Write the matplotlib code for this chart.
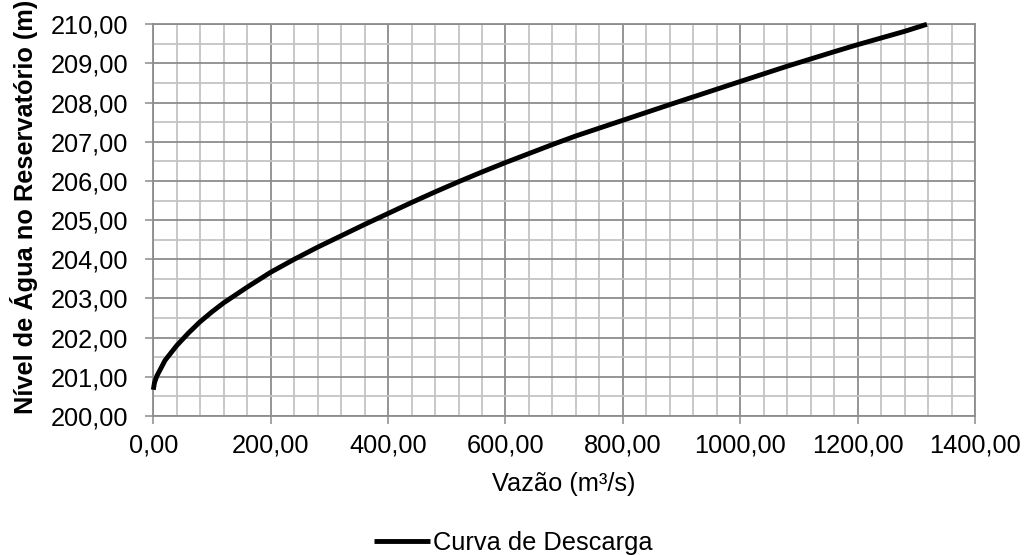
import matplotlib
matplotlib.use("Agg")
import matplotlib.pyplot as plt
from matplotlib.ticker import MultipleLocator, FuncFormatter

# Rating curve: discharge (m³/s) vs. reservoir water level (m)
vazao = [0, 2, 6, 20, 40, 60, 80, 100, 120, 160, 200, 240, 280, 320, 360, 400,
         440, 480, 520, 560, 600, 640, 680, 720, 760, 800, 840, 880,
         1000, 1080, 1160, 1200, 1240, 1280, 1318]
nivel = [200.67, 200.85, 201.02, 201.42, 201.8, 202.12, 202.41, 202.66, 202.89, 203.29,
         203.67, 204.0, 204.31, 204.6, 204.89, 205.17, 205.45, 205.72, 205.98, 206.23,
         206.47, 206.7, 206.93, 207.15, 207.35, 207.55, 207.75, 207.95, 208.54, 208.93,
         209.3, 209.48, 209.65, 209.82, 210.0]

serie_nome = "Curva de Descarga"
x_titulo = "Vazão (m³/s)"
y_titulo = "Nível de Água no Reservatório (m)"

plt.rcParams['font.family'] = ['Liberation Sans', 'DejaVu Sans']
fs = 18.3

fig = plt.figure(figsize=(10.27, 5.55), dpi=100)
ax = fig.add_axes([153.3 / 1027, 1 - 416 / 555, (975 - 153.3) / 1027, (416 - 24.3) / 555])

major_c = '#8c8c8c'
minor_c = '#c4c4c4'

ax.set_xlim(0, 1400)
ax.set_ylim(200, 210)
ax.xaxis.set_major_locator(MultipleLocator(200))
ax.xaxis.set_minor_locator(MultipleLocator(40))
ax.yaxis.set_major_locator(MultipleLocator(1))
ax.yaxis.set_minor_locator(MultipleLocator(0.5))

fmt = FuncFormatter(lambda v, p: f"{v:.2f}".replace('.', ','))
ax.xaxis.set_major_formatter(fmt)
ax.yaxis.set_major_formatter(fmt)

ax.grid(which='minor', color=minor_c, linewidth=1.3, zorder=0)
ax.grid(which='major', color=major_c, linewidth=1.3, zorder=1)
ax.set_axisbelow(True)

for s in ax.spines.values():
    s.set_color(major_c)
    s.set_linewidth(1.3)

ax.tick_params(which='major', direction='out', length=5.8, width=1.1, color=major_c,
               labelsize=fs, labelcolor='black')
ax.tick_params(axis='y', which='major', pad=12)
ax.tick_params(axis='x', which='major', pad=6.5)
ax.tick_params(which='minor', length=0)

ax.plot(vazao, nivel, color='black', linewidth=3.5, solid_capstyle='butt',
        solid_joinstyle='round', clip_on=False, zorder=3, label=serie_nome)

ax.set_xlabel(x_titulo, fontsize=fs)
ax.xaxis.set_label_coords(0.5, -0.143)
ax.set_ylabel(y_titulo, fontsize=fs, fontweight='bold')
ax.yaxis.set_label_coords(-0.140, 0.533)

fig.legend(loc='center', bbox_to_anchor=(0.5, 0.022), frameon=False, fontsize=fs,
           handlelength=2.2, handletextpad=0.12, borderpad=0)

fig.savefig("out.png", dpi=100, facecolor='white')
